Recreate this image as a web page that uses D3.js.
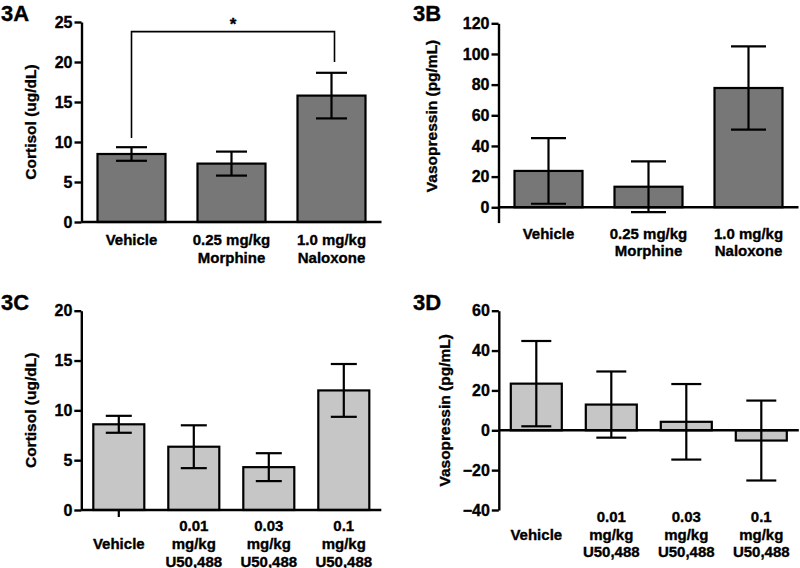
<!DOCTYPE html>
<html><head><meta charset="utf-8">
<script src="https://cdn.jsdelivr.net/npm/d3@7"></script>
<style>
html,body{margin:0;padding:0;background:#fff;}
text{font-family:"Liberation Sans",Arial,sans-serif;font-weight:bold;fill:#000;stroke:#000;stroke-width:0.35px;}
</style></head>
<body><svg id="c" width="800" height="568"></svg>
<script>
// ---- data ----
const catsAB = [["Vehicle"], ["0.25 mg/kg", "Morphine"], ["1.0 mg/kg", "Naloxone"]];
const catsCD = [["", "Vehicle", ""], ["0.01", "mg/kg", "U50,488"], ["0.03", "mg/kg", "U50,488"], ["0.1", "mg/kg", "U50,488"]];
const cortisolA = [8.5, 7.3, 15.8];
const cortisolAErr = [0.85, 1.5, 2.85];
const vasopressinB = [23.7, 13.4, 77.8];
const vasopressinBErr = [21.4, 16.6, 27.2];
const cortisolC = [8.6, 6.35, 4.3, 12.0];
const cortisolCErr = [0.85, 2.15, 1.4, 2.65];
const vasopressinD = [23.4, 12.9, 4.25, -5.15];
const vasopressinDErr = [21.4, 16.6, 18.95, 20.05];
const ticksA = [0, 5, 10, 15, 20, 25];
const ticksB = [0, 20, 40, 60, 80, 100, 120];
const ticksC = [0, 5, 10, 15, 20];
const ticksD = [-40, -20, 0, 20, 40, 60];
const sigA = {from: 0, to: 2, top: 23.8, leftEnd: 10.5, rightEnd: 20, label: "*"};

const svg = d3.select("#c");

function panel(o) {
  const g = svg.append("g");
  const x = d3.scaleBand().domain(d3.range(o.cats.length)).range(o.xr).paddingInner(0.32).paddingOuter(0.16);
  const y = d3.scaleLinear().domain(o.yd).range(o.yr);
  const bw = x.bandwidth();
  // bars
  g.selectAll("rect.bar").data(o.vals).join("rect")
    .attr("x", (d, i) => x(i))
    .attr("y", d => Math.min(y(d), y(0)))
    .attr("width", bw)
    .attr("height", d => Math.abs(y(d) - y(0)))
    .attr("fill", o.fill).attr("stroke", "#000").attr("stroke-width", 2.2);
  // error bars
  const eb = g.selectAll("g.err").data(o.vals).join("g");
  eb.append("line")
    .attr("x1", (d, i) => x(i) + bw / 2).attr("x2", (d, i) => x(i) + bw / 2)
    .attr("y1", (d, i) => y(d + o.errs[i])).attr("y2", (d, i) => y(d - o.errs[i]))
    .attr("stroke", "#000").attr("stroke-width", 2.2);
  [1, -1].forEach(s => {
    eb.append("line")
      .attr("x1", (d, i) => x(i) + bw / 2 - o.cap).attr("x2", (d, i) => x(i) + bw / 2 + o.cap)
      .attr("y1", (d, i) => y(d + s * o.errs[i])).attr("y2", (d, i) => y(d + s * o.errs[i]))
      .attr("stroke", "#000").attr("stroke-width", 2.2);
  });
  // y axis
  const ax = g.append("g").attr("transform", `translate(${o.xr[0]},0)`)
    .call(d3.axisLeft(y).tickValues(o.ticks).tickSize(7).tickPadding(2).tickSizeOuter(0));
  ax.select(".domain").attr("stroke-width", 2.4);
  ax.selectAll(".tick line").attr("stroke-width", 2.4);
  ax.selectAll(".tick text").attr("font-size", 16).attr("font-family", '"Liberation Sans",Arial,sans-serif').attr("font-weight", "bold");
  // x axis line at 0
  g.append("line").attr("x1", o.xr[0]).attr("x2", o.xr[1]).attr("y1", y(0)).attr("y2", y(0))
    .attr("stroke", "#000").attr("stroke-width", 2.4);
  // category labels
  o.cats.forEach((lines, i) => {
    lines.forEach((t, j) => {
      if (!t) return;
      g.append("text").attr("x", x(i) + bw / 2).attr("y", o.labY + j * o.labDy)
        .attr("text-anchor", "middle").attr("font-size", 15).text(t);
    });
  });
  // y title
  g.append("text").attr("transform", `translate(${o.titleX},${(o.yr[0] + o.yr[1]) / 2 + (o.titleDy || 0)}) rotate(-90)`)
    .attr("text-anchor", "middle").attr("font-size", 15.5).text(o.title);
  // panel letter
  g.append("text").attr("x", o.letterX).attr("y", o.letterY).attr("font-size", 22).text(o.letter);
  return {g, x, y, bw};
}

const A = panel({cats: catsAB, vals: cortisolA, errs: cortisolAErr, ticks: ticksA, yd: [0, 25], yr: [222, 22],
  xr: [81.5, 381.5], fill: "#777777", cap: 15.5, labY: 245, labDy: 18, title: "Cortisol (ug/dL)", titleX: 36,
  letter: "3A", letterX: 1, letterY: 21});
const B = panel({cats: catsAB, vals: vasopressinB, errs: vasopressinBErr, ticks: ticksB, yd: [-10, 120], yr: [222.6, 23.3],
  xr: [498.5, 798.5], fill: "#777777", cap: 17.5, labY: 238.5, labDy: 17, title: "Vasopressin (pg/mL)", titleX: 437, titleDy: -7,
  letter: "3B", letterX: 413, letterY: 21});
const C = panel({cats: catsCD, vals: cortisolC, errs: cortisolCErr, ticks: ticksC, yd: [0, 20], yr: [510, 310.7],
  xr: [81.3, 381.3], fill: "#c6c6c6", cap: 13, labY: 530.5, labDy: 18, title: "Cortisol (ug/dL)", titleX: 36,
  letter: "3C", letterX: 1, letterY: 310});
const D = panel({cats: catsCD, vals: vasopressinD, errs: vasopressinDErr, ticks: ticksD, yd: [-40, 60], yr: [510, 310.7],
  xr: [498.8, 798.8], fill: "#c6c6c6", cap: 15, labY: 522, labDy: 17.5, title: "Vasopressin (pg/mL)", titleX: 450,
  letter: "3D", letterX: 413, letterY: 310});

// vehicle tick in C
C.g.append("line").attr("x1", C.x(0) + C.bw / 2).attr("x2", C.x(0) + C.bw / 2)
  .attr("y1", C.y(0)).attr("y2", C.y(0) + 7).attr("stroke", "#000").attr("stroke-width", 2.2);

// significance bracket in A
const xl = A.x(sigA.from) + A.bw / 2, xr2 = A.x(sigA.to) + A.bw / 2 + 3;
A.g.append("path")
  .attr("d", `M${xl},${A.y(sigA.leftEnd)}V${A.y(sigA.top)}H${xr2}V${A.y(sigA.rightEnd)}`)
  .attr("fill", "none").attr("stroke", "#000").attr("stroke-width", 1.6);
A.g.append("text").attr("x", (xl + xr2) / 2).attr("y", A.y(sigA.top) - 2)
  .attr("text-anchor", "middle").attr("font-size", 17).text(sigA.label);
</script></body></html>
